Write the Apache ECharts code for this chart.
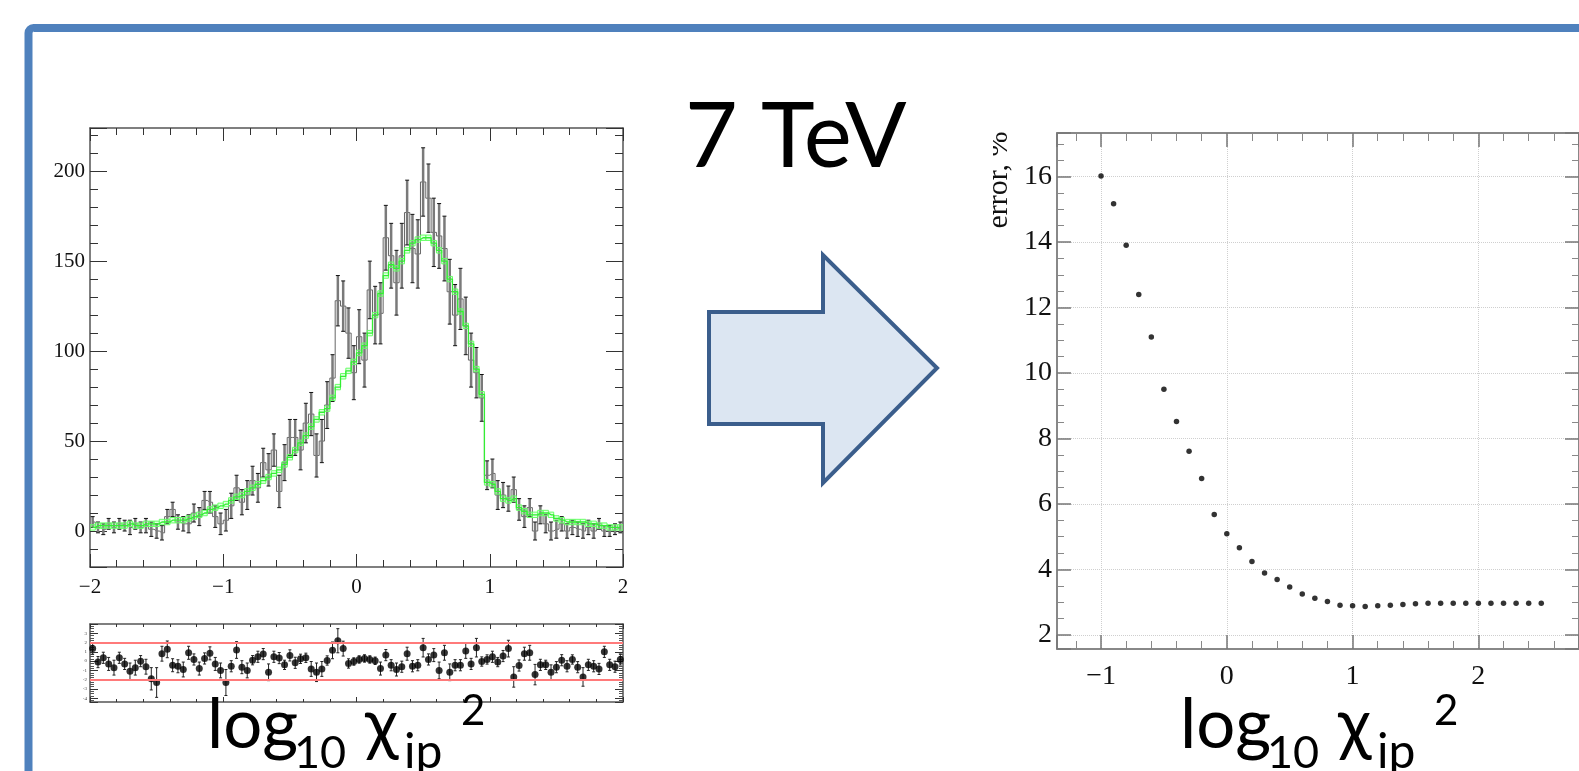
<!DOCTYPE html>
<html>
<head>
<meta charset="utf-8">
<script src="https://cdn.jsdelivr.net/npm/echarts@6/dist/echarts.min.js"></script>
<style>
  html, body { margin: 0; padding: 0; background: #fff; }
  #slide { width: 1579px; height: 771px; }
</style>
</head>
<body>
<div id="slide"></div>
<script>
// log10(chi2_ip) histogram: 100 bins of 0.04 from -2 to 2
const binStart = -2;
const binWidth = 0.04;

// fitted model (green)
const modelCounts = [
  2, 3, 3, 3, 3, 3, 3, 4, 3, 3,
  4, 4, 4, 5, 5, 6, 6, 6, 7, 8,
  9, 10, 12, 13, 14, 15, 17, 19, 20, 22,
  24, 26, 28, 30, 32, 34, 37, 41, 45, 49,
  53, 58, 62, 66, 68, 74, 80, 86, 89, 94,
  99, 103, 110, 120, 132, 142, 148, 146, 150, 156,
  160, 162, 163, 163, 160, 156, 150, 140, 133, 122,
  114, 104, 90, 76, 27, 26, 22, 18, 17, 18,
  13, 11, 9, 9, 10, 10, 9, 7, 6, 5,
  5, 5, 5, 4, 4, 3, 3, 2, 2, 2
];
const modelHalfBand = 1.5;

// data (black) with errors
const dataCounts = [
  5, 2, 1, 4, 2, 4, 3, 2, 4, 2,
  3, 1, 0, -1, 8, 12, 5, 4, 4, 10,
  8, 17, 16, 8, 4, 6, 14, 24, 16, 20,
  28, 24, 38, 34, 45, 22, 38, 52, 52, 45,
  60, 65, 42, 50, 70, 85, 128, 125, 110, 88,
  108, 95, 134, 120, 121, 163, 153, 138, 153, 177,
  157, 154, 194, 185, 166, 164, 157, 133, 120, 129,
  114, 95, 88, 74, 31, 32, 20, 20, 18, 23,
  12, 8, 13, 0, 9, 4, 0, 1, 4, 0,
  2, 1, 0, 2, 0, 4, 0, 0, 1, 2
];
const dataErrors = [
  3, 3, 3, 3, 3, 3, 3, 4, 3, 3,
  4, 4, 4, 4, 4, 4, 4, 4, 5, 5,
  5, 5, 6, 6, 6, 6, 7, 7, 7, 8,
  8, 8, 8, 9, 9, 9, 10, 10, 10, 11,
  11, 12, 12, 12, 13, 13, 14, 14, 14, 15,
  15, 15, 16, 16, 17, 18, 18, 18, 18, 18,
  19, 19, 19, 19, 19, 18, 18, 18, 17, 17,
  16, 15, 14, 13, 8, 8, 8, 7, 7, 7,
  6, 6, 5, 5, 5, 5, 5, 5, 4, 4,
  4, 4, 4, 4, 4, 3, 3, 3, 3, 3
];

// pull panel
const pullValues = [
  1.35, -0.1, 0.36, -0.3, -0.7, 0.36, -0.3, -1.1, -0.7, 0,
  -0.6, -1.9, -2.3, 0.8, 1.27, -0.44, -0.55, -0.9, 0.9, 0.18,
  -0.8, 0.29, 0.84, -0.3, -1.0, -2.3, -0.55, 1.2, -0.65, -1.0,
  0.1, 0.47, 0.76, -1.2, 0.47, 0.33, -0.4, 0.62, -0.18, 0.25,
  0.36, -0.84, -1.2, -0.84, 0.07, 1.16, 2.2, 1.35, -0.25, -0.04,
  0.18, 0.29, 0.18, 0.04, -0.8, 0.65, -0.44, -0.9, -0.6, 0.8,
  -0.55, -0.44, 1.45, 0.18, 0.65, -1.0, 0.9, -1.2, -0.44, -0.44,
  1.1, -0.3, 1.45, -0.04, 0.18, 0.47, -0.1, 0.55, 1.35, -1.7,
  -0.47, 0.8, 0.9, -1.45, -0.4, -0.4, -1.2, -0.65, 0.1, -0.55,
  0.18, -0.65, -1.7, -0.4, -0.55, -0.84, 1.0, -0.4, -0.6, 0.18
];
const pullErrors = [
  0.6, 0.6, 0.6, 0.7, 0.8, 0.6, 0.6, 0.9, 0.8, 0.6,
  0.8, 1.2, 1.6, 0.8, 0.9, 0.7, 0.7, 0.8, 0.7, 0.6,
  0.7, 0.6, 0.7, 0.7, 0.8, 1.4, 0.6, 0.9, 0.7, 0.8,
  0.5, 0.6, 0.6, 0.9, 0.6, 0.6, 0.5, 0.6, 0.6, 0.5,
  0.5, 0.8, 1.0, 0.8, 0.5, 0.9, 1.3, 0.8, 0.5, 0.4,
  0.4, 0.4, 0.4, 0.4, 0.7, 0.6, 0.6, 0.7, 0.6, 0.7,
  0.6, 0.6, 1.0, 0.6, 0.7, 0.9, 0.8, 0.9, 0.6, 0.6,
  0.8, 0.6, 1.0, 0.5, 0.5, 0.6, 0.5, 0.6, 0.9, 1.1,
  0.6, 0.7, 0.8, 1.1, 0.6, 0.5, 0.8, 0.6, 0.6, 0.6,
  0.5, 0.6, 1.0, 0.6, 0.6, 0.6, 0.6, 0.6, 0.6, 0.6
];
const pullLimits = [-2, 2];

// error, % vs log10(chi2_ip) cut (right plot)
const cutValues = [
  -1.0, -0.9, -0.8, -0.7, -0.6, -0.5, -0.4, -0.3, -0.2, -0.1,
  0.0, 0.1, 0.2, 0.3, 0.4, 0.5, 0.6, 0.7, 0.8, 0.9,
  1.0, 1.1, 1.2, 1.3, 1.4, 1.5, 1.6, 1.7, 1.8, 1.9,
  2.0, 2.1, 2.2, 2.3, 2.4, 2.5
];
const errorPercent = [
  16.02, 15.17, 13.9, 12.4, 11.1, 9.5, 8.52, 7.61, 6.78, 5.68,
  5.09, 4.66, 4.24, 3.89, 3.69, 3.46, 3.25, 3.12, 3.02, 2.91,
  2.89, 2.87, 2.89, 2.91, 2.93, 2.95, 2.97, 2.97, 2.97, 2.97,
  2.97, 2.97, 2.97, 2.97, 2.97, 2.97
];

const binCenter = i => binStart + (i + 0.5) * binWidth;
const minus = v => String(v).replace('-', '\u2212');
const serif = 'Liberation Serif';
const slideFont = 'Lato';

function errorBars(capHalf, barColor, barWidth, capColor) {
  return function (params, api) {
    const x = api.value(0);
    const top = api.coord([x, api.value(2)]);
    const bot = api.coord([x, api.value(1)]);
    const cs = { stroke: capColor, lineWidth: 1 };
    return {
      type: 'group',
      children: [
        { type: 'line', shape: { x1: top[0], y1: top[1], x2: bot[0], y2: bot[1] }, style: { stroke: barColor, lineWidth: barWidth } },
        { type: 'line', shape: { x1: top[0] - capHalf, y1: top[1], x2: top[0] + capHalf, y2: top[1] }, style: cs },
        { type: 'line', shape: { x1: bot[0] - capHalf, y1: bot[1], x2: bot[0] + capHalf, y2: bot[1] }, style: cs }
      ]
    };
  };
}

function modelBoxes(params, api) {
  const x = api.value(0), v = api.value(1);
  const p1 = api.coord([x - binWidth / 2, v + modelHalfBand]);
  const p2 = api.coord([x + binWidth / 2, v - modelHalfBand]);
  return {
    type: 'rect',
    shape: { x: p1[0], y: p1[1], width: p2[0] - p1[0], height: p2[1] - p1[1] },
    style: { stroke: '#66ff66', fill: 'rgba(140,255,140,0.25)', lineWidth: 1 }
  };
}

// axis helper: ticks drawn inside the frame like ROOT
function frameAxis(extra) {
  return Object.assign({
    type: 'value',
    axisLine: { show: true, onZero: false, lineStyle: { color: '#555', width: 1.5 } },
    axisTick: { show: true, inside: true, length: 13, lineStyle: { color: '#333', width: 1 } },
    minorTick: { show: true, splitNumber: 5, length: 7, lineStyle: { color: '#333', width: 1 } },
    axisLabel: { show: false },
    splitLine: { show: false }
  }, extra);
}

const chart = echarts.init(document.getElementById('slide'), null, { renderer: 'canvas' });

const arrowPts = [[709, 312], [823, 312], [823, 255], [937, 368], [823, 483], [823, 424], [709, 424]];

function labelPieces(x0) {
  const parts = [
    { t: 'log', dx: 0, base: 749, size: 69 },
    { t: '10', dx: 87, base: 768, size: 45 },
    { t: '\u03c7', dx: 158, base: 749, size: 69 },
    { t: 'ip', dx: 197, base: 768, size: 48 },
    { t: '2', dx: 254, base: 725, size: 42 }
  ];
  return parts.map(p => ({
    type: 'text',
    x: x0 + p.dx,
    y: p.base - p.size * 0.33,
    style: { text: p.t, font: p.size + 'px ' + slideFont, fill: '#000', textAlign: 'left', textVerticalAlign: 'middle' },
    z: 10
  }));
}

const option = {
  animation: false,
  backgroundColor: '#fff',
  grid: [
    { left: 90, top: 128, width: 533, height: 439, outerBoundsMode: 'none' },
    { left: 90, top: 624, width: 533, height: 78, outerBoundsMode: 'none' },
    { left: 1057, top: 133, width: 522, height: 516, outerBoundsMode: 'none' }
  ],
  xAxis: [
    frameAxis({ gridIndex: 0, position: 'bottom', min: -2, max: 2, interval: 1,
      axisLabel: { show: true, inside: false, margin: 10, fontFamily: serif, fontSize: 21, color: '#111', formatter: minus } }),
    frameAxis({ gridIndex: 0, position: 'top', min: -2, max: 2, interval: 1 }),
    frameAxis({ gridIndex: 1, position: 'bottom', min: -2, max: 2, interval: 1, axisTick: { show: true, inside: true, length: 5, lineStyle: { color: '#333' } }, minorTick: { show: true, splitNumber: 5, length: 3, lineStyle: { color: '#333' } } }),
    frameAxis({ gridIndex: 1, position: 'top', min: -2, max: 2, interval: 1, axisTick: { show: true, inside: true, length: 5, lineStyle: { color: '#333' } }, minorTick: { show: true, splitNumber: 5, length: 3, lineStyle: { color: '#333' } } }),
    frameAxis({ gridIndex: 2, position: 'bottom', min: -1.35, max: 2.8, axisLine: { show: true, onZero: false, lineStyle: { color: '#888', width: 2 } },
      axisTick: { show: true, inside: true, length: 14, lineStyle: { color: '#777', width: 1.5 } },
      minorTick: { show: true, splitNumber: 5, length: 8, lineStyle: { color: '#888', width: 1 } },
      splitLine: { show: true, lineStyle: { color: '#cfcfcf', type: 'dotted', width: 1 } },
      axisLabel: { show: true, margin: 14, fontFamily: serif, fontSize: 28, color: '#111', formatter: minus, showMinLabel: false, showMaxLabel: false } }),
    frameAxis({ gridIndex: 2, position: 'top', min: -1.35, max: 2.8, axisLine: { show: true, onZero: false, lineStyle: { color: '#888', width: 2 } },
      axisTick: { show: true, inside: true, length: 14, lineStyle: { color: '#777', width: 1.5 } },
      minorTick: { show: true, splitNumber: 5, length: 8, lineStyle: { color: '#888', width: 1 } } })
  ],
  yAxis: [
    frameAxis({ gridIndex: 0, position: 'left', min: -20, max: 224, axisTick: { show: true, inside: true, length: 17, lineStyle: { color: '#333' } },
      minorTick: { show: true, splitNumber: 5, length: 8, lineStyle: { color: '#333' } },
      axisLabel: { show: true, margin: 5, fontFamily: serif, fontSize: 21, color: '#111', showMinLabel: false, showMaxLabel: false } }),
    frameAxis({ gridIndex: 0, position: 'right', min: -20, max: 224, axisTick: { show: true, inside: true, length: 17, lineStyle: { color: '#333' } },
      minorTick: { show: true, splitNumber: 5, length: 8, lineStyle: { color: '#333' } } }),
    frameAxis({ gridIndex: 1, position: 'left', min: -4.4, max: 4, splitNumber: 8, axisTick: { show: true, inside: true, length: 8, lineStyle: { color: '#333' } },
      minorTick: { show: true, splitNumber: 4, length: 4, lineStyle: { color: '#555' } },
      axisLabel: { show: true, margin: 3, fontFamily: serif, fontSize: 5, color: '#444', showMinLabel: false, showMaxLabel: false } }),
    frameAxis({ gridIndex: 1, position: 'right', min: -4.4, max: 4, splitNumber: 8, axisTick: { show: true, inside: true, length: 8, lineStyle: { color: '#333' } },
      minorTick: { show: true, splitNumber: 4, length: 4, lineStyle: { color: '#555' } } }),
    frameAxis({ gridIndex: 2, position: 'left', min: 1.57, max: 17.33, splitNumber: 8, axisLine: { show: true, onZero: false, lineStyle: { color: '#888', width: 2 } },
      axisTick: { show: true, inside: true, length: 14, lineStyle: { color: '#777', width: 1.5 } },
      minorTick: { show: true, splitNumber: 4, length: 7, lineStyle: { color: '#888', width: 1 } },
      splitLine: { show: true, lineStyle: { color: '#cfcfcf', type: 'dotted', width: 1 } },
      axisLabel: { show: true, margin: 5, fontFamily: serif, fontSize: 28, color: '#111', showMinLabel: false, showMaxLabel: false } }),
    frameAxis({ gridIndex: 2, position: 'right', min: 1.57, max: 17.33, splitNumber: 8, axisLine: { show: true, onZero: false, lineStyle: { color: '#888', width: 2 } },
      axisTick: { show: true, inside: true, length: 14, lineStyle: { color: '#777', width: 1.5 } },
      minorTick: { show: true, splitNumber: 4, length: 7, lineStyle: { color: '#888', width: 1 } } })
  ],
  series: [
    {
      name: 'data',
      type: 'line',
      xAxisIndex: 0, yAxisIndex: 0,
      step: 'middle',
      symbol: 'none',
      lineStyle: { color: '#666', width: 1 },
      data: dataCounts.map((v, i) => [binCenter(i), v]),
      z: 2
    },
    {
      name: 'data errors',
      type: 'custom',
      xAxisIndex: 0, yAxisIndex: 0,
      clip: true,
      renderItem: errorBars(2, '#7a7a7a', 2.5, '#111'),
      data: dataCounts.map((v, i) => [binCenter(i), v - dataErrors[i], v + dataErrors[i]]),
      z: 3
    },
    {
      name: 'model band',
      type: 'custom',
      xAxisIndex: 0, yAxisIndex: 0,
      clip: true,
      renderItem: modelBoxes,
      data: modelCounts.map((v, i) => [binCenter(i), v]),
      z: 4
    },
    {
      name: 'model',
      type: 'line',
      xAxisIndex: 0, yAxisIndex: 0,
      step: 'middle',
      symbol: 'none',
      lineStyle: { color: '#33ee33', width: 1.3 },
      data: modelCounts.map((v, i) => [binCenter(i), v]),
      z: 5
    },
    {
      name: 'pull errors',
      type: 'custom',
      xAxisIndex: 2, yAxisIndex: 2,
      clip: true,
      renderItem: errorBars(1.5, '#222', 1, '#222'),
      data: pullValues.map((v, i) => [binCenter(i), v - pullErrors[i], v + pullErrors[i]]),
      z: 3
    },
    {
      name: 'pull',
      type: 'scatter',
      xAxisIndex: 2, yAxisIndex: 2,
      symbolSize: 7,
      itemStyle: { color: '#000' },
      data: pullValues.map((v, i) => [binCenter(i), v]),
      markLine: {
        silent: true,
        symbol: 'none',
        label: { show: false },
        lineStyle: { color: '#ff7a7a', width: 1.8, type: 'solid' },
        data: pullLimits.map(v => ({ yAxis: v }))
      },
      z: 4
    },
    {
      name: 'error, %',
      type: 'scatter',
      xAxisIndex: 4, yAxisIndex: 4,
      symbolSize: 5.5,
      itemStyle: { color: '#000' },
      data: cutValues.map((x, i) => [x, errorPercent[i]])
    }
  ],
  graphic: [
    // slide frame
    { type: 'rect', shape: { x: 28.5, y: 28, width: 1700, height: 900, r: 5 }, style: { stroke: '#4f81bd', lineWidth: 8, fill: 'none' }, z: 1 },
    // arrow
    { type: 'polygon', shape: { points: arrowPts }, style: { fill: '#dce6f2', stroke: '#3b5e8c', lineWidth: 4 }, z: 1 },
    { type: 'text', x: 685, y: 168 - 91 * 0.33, style: { text: '7 TeV', font: '91px ' + slideFont, fill: '#000', textAlign: 'left', textVerticalAlign: 'middle' }, z: 10 },
    // y title of the right plot, cut at the image edge
    { type: 'text', x: 1014, y: 180, rotation: Math.PI / 2, style: { text: 'error, %', font: '30px ' + serif, fill: '#111', textAlign: 'center', textVerticalAlign: 'bottom' }, z: 10 },
    { type: 'rect', shape: { x: 960, y: 110, width: 33, height: 140 }, style: { fill: '#fff' }, z: 11 }
  ].concat(labelPieces(207), labelPieces(1180))
};

chart.setOption(option);
</script>
</body>
</html>
